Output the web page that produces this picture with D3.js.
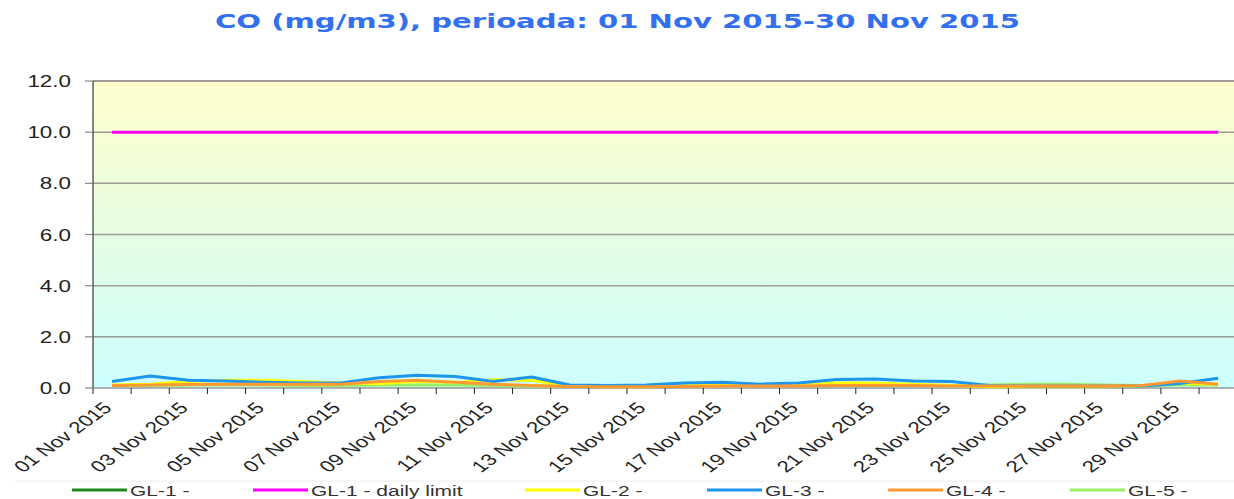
<!DOCTYPE html>
<html>
<head>
<meta charset="utf-8">
<script src="https://cdn.jsdelivr.net/npm/d3@7"></script>
<style>
  body { margin: 0; background: #ffffff; }
  svg { display: block; }
</style>
</head>
<body>
<svg id="chart" width="1234" height="499"></svg>
<script>
// categories (days of November 2015)
const days = [
  '01 Nov 2015','02 Nov 2015','03 Nov 2015','04 Nov 2015','05 Nov 2015','06 Nov 2015',
  '07 Nov 2015','08 Nov 2015','09 Nov 2015','10 Nov 2015','11 Nov 2015','12 Nov 2015',
  '13 Nov 2015','14 Nov 2015','15 Nov 2015','16 Nov 2015','17 Nov 2015','18 Nov 2015',
  '19 Nov 2015','20 Nov 2015','21 Nov 2015','22 Nov 2015','23 Nov 2015','24 Nov 2015',
  '25 Nov 2015','26 Nov 2015','27 Nov 2015','28 Nov 2015','29 Nov 2015','30 Nov 2015'
]

// series values, mg/m3
const gl1 = []   // no values shown for GL-1
const gl2 = [0.12,0.15,0.25,0.3,0.3,0.25,0.2,0.18,0.25,0.22,0.32,0.3,0.08,0.05,0.05,0.1,0.1,0.1,0.15,0.2,0.2,0.15,0.1,0.05,0.05,0.05,0.05,0.08,0.2,0.15]
const gl3 = [0.25,0.47,0.3,0.27,0.22,0.2,0.2,0.4,0.5,0.45,0.25,0.43,0.12,0.1,0.12,0.2,0.22,0.15,0.2,0.33,0.35,0.27,0.25,0.1,0.08,0.08,0.08,0.08,0.18,0.38]
const gl4 = [0.1,0.12,0.14,0.15,0.15,0.15,0.15,0.25,0.3,0.22,0.15,0.1,0.06,0.05,0.05,0.06,0.08,0.08,0.08,0.1,0.1,0.1,0.08,0.08,0.08,0.08,0.08,0.1,0.27,0.15]
const gl5 = [0.1,0.1,0.12,0.12,0.12,0.1,0.1,0.12,0.12,0.12,0.1,0.08,0.08,0.08,0.08,0.1,0.1,0.1,0.12,0.12,0.12,0.1,0.1,0.12,0.15,0.15,0.12,0.1,0.12,0.12]
const dailyLimit = 10

// y tick labels
const yTicks = [0, 2, 4, 6, 8, 10, 12]

const legendNames = ['GL-1 -', 'GL-1 - daily limit', 'GL-2 -', 'GL-3 -', 'GL-4 -', 'GL-5 -']
const colors = ['#1f8b1f', '#ff00ff', '#ffff00', '#1e96f0', '#ff9933', '#99ee66']

const svg = d3.select('#chart')
const margin = {top: 81, left: 93, bottom: 388}
const bandW = 38.14
const stretch = 1.4

const x = d3.scaleBand()
  .domain(days)
  .range([margin.left, margin.left + bandW * days.length])
  .padding(0)

const y = d3.scaleLinear()
  .domain([0, 12])
  .range([margin.bottom, margin.top])

const cx = d => x(d) + x.bandwidth() / 2

// background gradient
const grad = svg.append('defs').append('linearGradient')
  .attr('id', 'bg').attr('x1', 0).attr('y1', 0).attr('x2', 0).attr('y2', 1)
grad.append('stop').attr('offset', '0%').attr('stop-color', '#ffffcc')
grad.append('stop').attr('offset', '50%').attr('stop-color', '#e6fde3')
grad.append('stop').attr('offset', '100%').attr('stop-color', '#ccffff')

svg.append('rect')
  .attr('x', margin.left).attr('y', y(12))
  .attr('width', x.range()[1] - margin.left)
  .attr('height', y(0) - y(12))
  .attr('fill', 'url(#bg)')

// title
svg.append('text')
  .attr('x', 215).attr('y', 28)
  .attr('textLength', 805).attr('lengthAdjust', 'spacingAndGlyphs')
  .style('font-family', 'DejaVu Sans')
  .style('font-weight', 'bold')
  .style('font-size', '19px')
  .attr('fill', '#3370f0')
  .text('CO (mg/m3), perioada: 01 Nov 2015-30 Nov 2015')

// gridlines
svg.append('g')
  .selectAll('line')
  .data(yTicks.filter(t => t > 0))
  .join('line')
    .attr('x1', margin.left).attr('x2', x.range()[1])
    .attr('y1', d => y(d)).attr('y2', d => y(d))
    .attr('stroke', '#9c9c94')
    .attr('stroke-width', d => d === 12 ? 2 : 1.5)

// y axis
svg.append('line')
  .attr('x1', margin.left).attr('x2', margin.left)
  .attr('y1', y(12)).attr('y2', y(0))
  .attr('stroke', '#111').attr('stroke-width', 1)

svg.append('g')
  .selectAll('line')
  .data(yTicks)
  .join('line')
    .attr('x1', margin.left - 8).attr('x2', margin.left)
    .attr('y1', d => y(d)).attr('y2', d => y(d))
    .attr('stroke', '#888').attr('stroke-width', 1.2)

svg.append('g')
  .selectAll('text')
  .data(yTicks)
  .join('text')
    .attr('transform', d => `translate(71,${y(d) + 6}) scale(${stretch},1)`)
    .attr('text-anchor', 'end')
    .style('font-family', 'Liberation Sans, Arial, sans-serif')
    .style('font-size', '16px')
    .attr('fill', '#222')
    .text(d => d3.format('.1f')(d))

// x axis
svg.append('line')
  .attr('x1', margin.left).attr('x2', x.range()[1])
  .attr('y1', y(0)).attr('y2', y(0))
  .attr('stroke', '#999').attr('stroke-width', 1.5)

svg.append('g')
  .selectAll('line')
  .data(days)
  .join('line')
    .attr('x1', d => x(d)).attr('x2', d => x(d))
    .attr('y1', y(0)).attr('y2', y(0) + 6)
    .attr('stroke', '#222').attr('stroke-width', 1)

svg.append('g')
  .selectAll('text')
  .data(days.filter((d, i) => i % 2 === 0))
  .join('text')
    .attr('transform', d => `translate(${cx(d) + 1},${y(0) + 21}) scale(${stretch},1) rotate(-45)`)
    .attr('text-anchor', 'end')
    .style('font-family', 'Liberation Sans, Arial, sans-serif')
    .style('font-size', '16px')
    .attr('fill', '#222')
    .text(d => d)

// daily limit
svg.append('line')
  .attr('x1', cx(days[0])).attr('x2', cx(days[days.length - 1]))
  .attr('y1', y(dailyLimit)).attr('y2', y(dailyLimit))
  .attr('stroke', colors[1]).attr('stroke-width', 3)

// series lines
const line = d3.line()
  .x((d, i) => cx(days[i]))
  .y(d => y(d))

const series = [
  {values: gl1, color: colors[0]},
  {values: gl5, color: colors[5]},
  {values: gl2, color: colors[2]},
  {values: gl3, color: colors[3]},
  {values: gl4, color: colors[4]}
]

svg.append('g')
  .selectAll('path')
  .data(series.filter(s => s.values.length))
  .join('path')
    .attr('d', s => line(s.values))
    .attr('fill', 'none')
    .attr('stroke', s => s.color)
    .attr('stroke-width', 3)
    .attr('stroke-linejoin', 'round')

// legend
svg.append('line')
  .attr('x1', 15).attr('x2', 1234).attr('y1', 481).attr('y2', 481)
  .attr('stroke', '#eeeeee').attr('stroke-width', 1)

const legendX = [72, 253, 525, 707, 888, 1070]
const legend = svg.append('g')
  .selectAll('g')
  .data(legendNames)
  .join('g')
    .attr('transform', (d, i) => `translate(${legendX[i]},490)`)

legend.append('line')
  .attr('x1', 0).attr('x2', 55)
  .attr('stroke', (d, i) => colors[i])
  .attr('stroke-width', 3)

legend.append('text')
  .attr('transform', `translate(58,5.5) scale(${stretch},1)`)
  .style('font-family', 'Liberation Sans, Arial, sans-serif')
  .style('font-size', '15px')
  .attr('fill', '#333')
  .text(d => d)
</script>
</body>
</html>
